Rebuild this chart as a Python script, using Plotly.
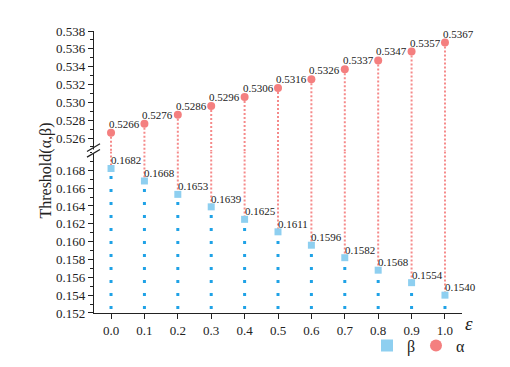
import plotly.graph_objects as go

eps = [0.0, 0.1, 0.2, 0.3, 0.4, 0.5, 0.6, 0.7, 0.8, 0.9, 1.0]
alpha = [0.5266, 0.5276, 0.5286, 0.5296, 0.5306, 0.5316, 0.5326, 0.5337, 0.5347, 0.5357, 0.5367]
beta = [0.1682, 0.1668, 0.1653, 0.1639, 0.1625, 0.1611, 0.1596, 0.1582, 0.1568, 0.1554, 0.1540]
x_ticks = [0.0, 0.1, 0.2, 0.3, 0.4, 0.5, 0.6, 0.7, 0.8, 0.9, 1.0]

W, H = 510, 367
L, R, T, B = 86, 56, 23, 49
PW, PH = W - L - R, H - T - B
BREAK_PX = 149  # pixel y of the axis break
split = (H - B - BREAK_PX) / PH

upper_range = [0.52450, 0.538]
lower_range = [0.152, 0.17011]

RED = "#F47F7F"
RED_LINE = "#F58A8A"
BLUE_SQ = "#8ECFF0"
BLUE_DOT = "#1FA2E6"
FONT = "Liberation Serif"

def px_x(p):
    return (p - L) / PW

def px_y(p):
    return (H - B - p) / PH

fig = go.Figure()

for xv, bv in zip(eps, beta):
    fig.add_trace(go.Scatter(x=[xv, xv], y=[lower_range[0], bv], mode="lines",
                             line=dict(color=BLUE_DOT, width=3, dash="0px,4px,3px,6px"),
                             yaxis="y", showlegend=False, hoverinfo="skip"))
for xv, bv in zip(eps, beta):
    fig.add_trace(go.Scatter(x=[xv, xv], y=[lower_range[1], bv], mode="lines",
                             line=dict(color=RED_LINE, width=2, dash="2px,2px"),
                             yaxis="y", showlegend=False, hoverinfo="skip"))
for xv, av in zip(eps, alpha):
    fig.add_trace(go.Scatter(x=[xv, xv], y=[av, upper_range[0]], mode="lines",
                             line=dict(color=RED_LINE, width=2, dash="2px,2px"),
                             yaxis="y2", showlegend=False, hoverinfo="skip"))

fig.add_trace(go.Scatter(x=eps, y=beta, mode="markers", name="β",
                         marker=dict(symbol="square", size=7, color=BLUE_SQ),
                         yaxis="y", cliponaxis=False, legend="legend"))
fig.add_trace(go.Scatter(x=eps, y=alpha, mode="markers", name="α",
                         marker=dict(symbol="circle", size=8, color=RED),
                         yaxis="y2", cliponaxis=False, legend="legend2"))

annotations = []
for xv, av in zip(eps, alpha):
    annotations.append(dict(x=xv, y=av, xref="x", yref="y2", text=f"{av:.4f}",
                            showarrow=False, xanchor="left", yanchor="bottom",
                            xshift=-4, yshift=1,
                            font=dict(family=FONT, size=11, color="#222")))
for xv, bv in zip(eps, beta):
    annotations.append(dict(x=xv, y=bv, xref="x", yref="y", text=f"{bv:.4f}",
                            showarrow=False, xanchor="left", yanchor="bottom",
                            xshift=-2, yshift=0,
                            font=dict(family=FONT, size=11, color="#222")))

annotations.append(dict(x=px_x(38), y=px_y(169), xref="paper", yref="paper",
                        text="Threshold(α,β)", textangle=-90, showarrow=False,
                        xanchor="center", yanchor="middle",
                        font=dict(family=FONT, size=16, color="#222")))
annotations.append(dict(x=px_x(461), y=px_y(329), xref="paper", yref="paper",
                        text="<i>ε</i>", showarrow=False,
                        xanchor="center", yanchor="middle",
                        font=dict(family=FONT, size=19, color="#222")))

shapes = [
    dict(type="rect", xref="paper", yref="paper", x0=px_x(84), x1=px_x(88),
         y0=px_y(151), y1=px_y(147), fillcolor="white", line=dict(width=0), layer="above"),
    dict(type="line", xref="paper", yref="paper", x0=px_x(79), y0=px_y(149),
         x1=px_x(92), y1=px_y(141), line=dict(color="#222", width=1.3), layer="above"),
    dict(type="line", xref="paper", yref="paper", x0=px_x(79), y0=px_y(155),
         x1=px_x(92), y1=px_y(147), line=dict(color="#222", width=1.3), layer="above"),
]

tickfont = dict(family=FONT, size=13, color="#222")
common_y = dict(showline=True, linecolor="#222", linewidth=1.3, ticks="outside",
                ticklen=5, tickwidth=1.2, tickcolor="#222", tickformat=".3f",
                showgrid=False, zeroline=False, tickfont=tickfont,
                minor=dict(ticks="outside", ticklen=3, tickwidth=1, tickcolor="#222", dtick=0.001))

legend_common = dict(orientation="h", yanchor="middle", y=px_y(352), xanchor="left",
                     font=dict(family=FONT, size=16, color="#222"),
                     bgcolor="rgba(0,0,0,0)", itemsizing="constant")

fig.update_layout(
    width=W, height=H,
    margin=dict(l=L, r=R, t=T, b=B),
    plot_bgcolor="white", paper_bgcolor="white",
    xaxis=dict(range=[-0.051, 1.051], anchor="y", showline=True, linecolor="#222",
               linewidth=1.3, ticks="outside", ticklen=5, tickwidth=1.2, tickcolor="#222",
               tickvals=x_ticks, ticktext=[f"{v:.1f}" for v in x_ticks],
               showgrid=False, zeroline=False, tickfont=tickfont),
    yaxis=dict(domain=[0, split], range=lower_range, anchor="x",
               tickvals=[0.152, 0.154, 0.156, 0.158, 0.160, 0.162, 0.164, 0.166, 0.168],
               **common_y),
    yaxis2=dict(domain=[split, 1], range=upper_range, anchor="x",
                tickvals=[0.526, 0.528, 0.530, 0.532, 0.534, 0.536, 0.538],
                **common_y),
    showlegend=True,
    legend=dict(x=px_x(359), **legend_common),
    legend2=dict(x=px_x(408), **legend_common),
    annotations=annotations,
    shapes=shapes,
)

fig.write_html("out.html")
